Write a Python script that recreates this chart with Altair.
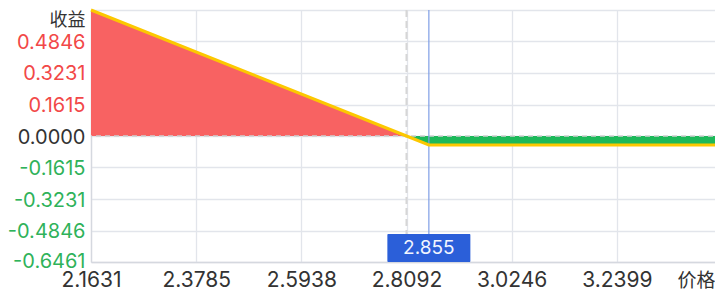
import altair as alt
import pandas as pd

# ---- data ----
gain_price = [2.1631, 2.8092]
gain_profit = [0.6461, 0.0]
loss_price = [2.8092, 2.855, 3.4553]
loss_profit = [0.0, -0.0458, -0.0458]
line_price = [2.1631, 2.8092, 2.855, 3.4553]
line_profit = [0.6461, 0.0, -0.0458, -0.0458]
x_ticks = [2.1631, 2.3785, 2.5938, 2.8092, 3.0246, 3.2399, 3.4553]
y_ticks = [-0.6461, -0.4846, -0.3231, -0.1615, 0.0, 0.1615, 0.3231, 0.4846, 0.6461]
strike = [2.855]
breakeven = [2.8092]
zero_level = [0.0]
y_label_top = "收益"
x_label_last = "价格"

FONT = "Inter, 'Noto Sans CJK SC', sans-serif"

gain_df = pd.DataFrame({"price": gain_price, "profit": gain_profit})
loss_df = pd.DataFrame({"price": loss_price, "profit": loss_profit})
line_df = pd.DataFrame({"price": line_price, "profit": line_profit})
strike_df = pd.DataFrame({"price": strike, "profit": [min(y_ticks)], "label": [f"{strike[0]:.3f}"]})
be_df = pd.DataFrame({"price": breakeven})
zero_df = pd.DataFrame({"profit": zero_level})

xs = alt.Scale(domain=[min(x_ticks), max(x_ticks)], nice=False, zero=False)
ys = alt.Scale(domain=[min(y_ticks), max(y_ticks)], nice=False, zero=False)

x_axis = alt.Axis(
    values=x_ticks,
    title=None,
    grid=True,
    tickSize=0,
    labelPadding=24,
    labelBaseline="alphabetic",
    labelFontSize={"expr": "datum.value > 3.4 ? 19 : 21"},
    labelColor="#333333",
    labelExpr=f"datum.value > 3.4 ? '{x_label_last}' : format(datum.value, '.4f')",
    labelAlign={"expr": "datum.value > 3.4 ? 'right' : 'center'"},
    labelOffset={"expr": "datum.value > 3.4 ? -7 : 0"},
    labelFlush=False,
    labelOverlap=False,
    labelBound=False,
)
y_axis = alt.Axis(
    values=y_ticks,
    title=None,
    grid=True,
    tickSize=0,
    labelPadding=6,
    labelFontSize={"expr": "datum.value > 0.6 ? 18 : 20"},
    labelExpr=(
        f"datum.value > 0.6 ? '{y_label_top}' : "
        "((datum.value < -0.00001 ? '-' : '') + format(abs(datum.value), '.4f'))"
    ),
    labelColor={"expr": "datum.value > 0.6 ? '#333333' : (datum.value > 0.001 ? '#f24848' : (datum.value < -0.001 ? '#2fb25a' : '#333333'))"},
    labelBaseline={"expr": "datum.value > 0.6 ? 'top' : 'middle'"},
    labelOffset={"expr": "datum.value < -0.6 ? -1 : 1"},
    labelFlush=False,
    labelOverlap=False,
    labelBound=False,
)

X = alt.X("price:Q", scale=xs, axis=x_axis)
Y = alt.Y("profit:Q", scale=ys, axis=y_axis)

gain = alt.Chart(gain_df).mark_area(color="#f86262", opacity=1).encode(x=X, y=Y, y2=alt.datum(0))
loss = alt.Chart(loss_df).mark_area(color="#1db95a", opacity=1).encode(x=X, y=Y, y2=alt.datum(0))
zero = alt.Chart(zero_df).mark_rule(color="#cfcfcf", strokeDash=[5, 4], strokeWidth=1.5).encode(y=Y)
be_rule = alt.Chart(be_df).mark_rule(color="#d6d6d6", strokeDash=[7, 4], strokeWidth=2).encode(x=X)
strike_rule = alt.Chart(strike_df).mark_rule(color="#7f9ee6", strokeWidth=1.2).encode(x=X)
line = alt.Chart(line_df).mark_line(color="#fcc800", strokeWidth=3).encode(x=X, y=Y)
box = alt.Chart(strike_df).mark_rect(color="#2b5fd9", width=83, height=28, yOffset=-14, cornerRadius=1).encode(x=X, y=Y)
box_text = alt.Chart(strike_df).mark_text(color="#f2f5ff", fontSize=19, font=FONT, dy=-14).encode(
    x=X, y=Y, text="label:N"
)

chart = alt.layer(gain, loss, zero, be_rule, strike_rule, line, box, box_text).properties(
    width=631,
    height=252,
    autosize=alt.AutoSizeParams(type="none"),
    padding={"left": 83, "top": 2, "right": -7, "bottom": 28},
).configure_view(stroke=None).configure_axis(
    gridColor="#e2e5eb",
    gridWidth=1.3,
    domainColor="#d5d8df",
    domainWidth=1.3,
    labelFont=FONT,
    labelOverlap=False,
)

chart.save("out.html", embed_options={"renderer": "svg", "actions": False})
